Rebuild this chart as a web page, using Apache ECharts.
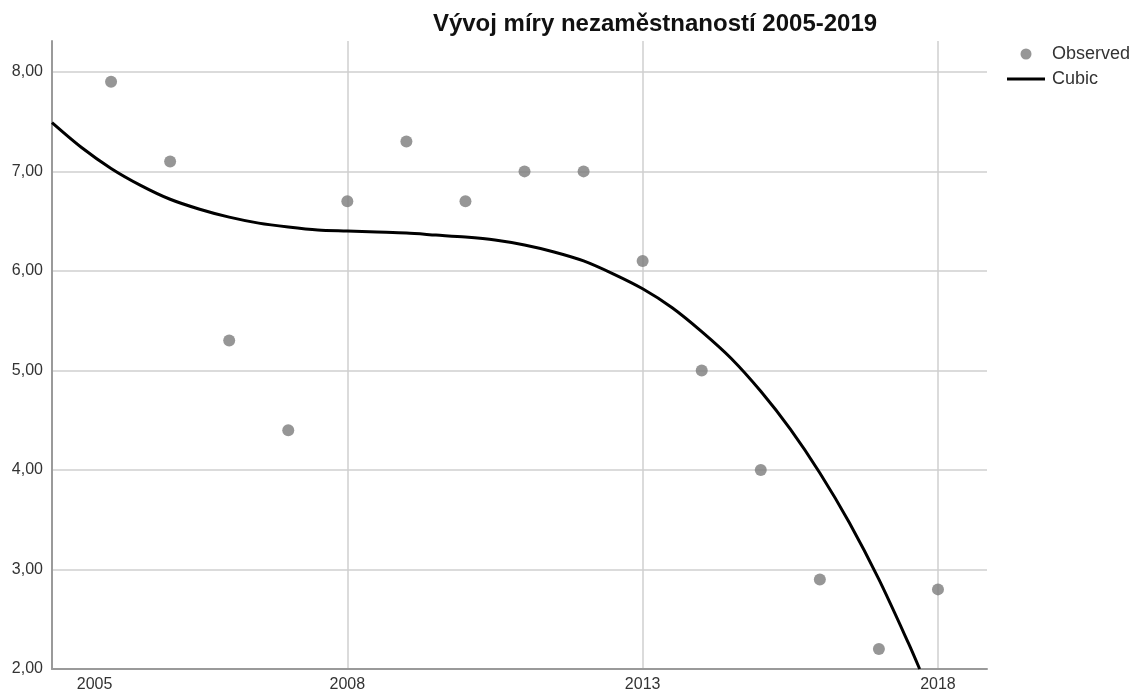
<!DOCTYPE html>
<html>
<head>
<meta charset="utf-8">
<script src="https://cdn.jsdelivr.net/npm/echarts@6/dist/echarts.min.js"></script>
<style>
html,body{margin:0;padding:0;background:#fff;}
#chart{width:1137px;height:693px;}
</style>
</head>
<body>
<div id="chart"></div>
<script>
// Observed unemployment rate (x positions as placed on the picture's axis)
var observedYears = [2004, 2005, 2006, 2007, 2008, 2009, 2010, 2011, 2012, 2013, 2014, 2015, 2016, 2017, 2018];
var observedValues = [7.9, 7.1, 5.3, 4.4, 6.7, 7.3, 6.7, 7.0, 7.0, 6.1, 5.0, 4.0, 2.9, 2.2, 2.8];

// Cubic fit curve at half-year steps
var cubicYears = [2003.0, 2003.5, 2004.0, 2004.5, 2005.0, 2005.5, 2006.0, 2006.5, 2007.0, 2007.5,
                  2008.0, 2008.5, 2009.0, 2009.5, 2010.0, 2010.5, 2011.0, 2011.5, 2012.0, 2012.5,
                  2013.0, 2013.5, 2014.0, 2014.5, 2015.0, 2015.5, 2016.0, 2016.5, 2017.0, 2017.5, 2017.69];
var cubicValues = [7.49, 7.24, 7.03, 6.86, 6.72, 6.62, 6.54, 6.48, 6.44, 6.41,
                   6.40, 6.39, 6.38, 6.36, 6.34, 6.31, 6.26, 6.19, 6.10, 5.97,
                   5.82, 5.63, 5.39, 5.12, 4.79, 4.41, 3.97, 3.47, 2.90, 2.26, 2.00];

// Tick labels
var xLabelValues = [2003.72, 2008, 2013, 2018];
var xLabelTexts = ['2005', '2008', '2013', '2018'];
var xGridValues = [2008, 2013, 2018];
var yTickValues = [2, 3, 4, 5, 6, 7, 8];

var chart = echarts.init(document.getElementById('chart'));
var observedData = observedYears.map(function (y, i) { return [y, observedValues[i]]; });
var cubicData = cubicYears.map(function (y, i) { return [y, cubicValues[i]]; });

chart.setOption({
  animation: false,
  backgroundColor: '#ffffff',
  title: {
    text: 'Vývoj míry nezaměstnaností 2005-2019',
    left: 655,
    textAlign: 'center',
    top: 12,
    padding: 0,
    textStyle: { fontFamily: 'Liberation Sans', fontWeight: 'bold', fontSize: 24, color: '#111' }
  },
  legend: {
    orient: 'vertical',
    left: 1007,
    top: 45,
    padding: 0,
    itemWidth: 38,
    itemHeight: 11,
    itemGap: 7,
    textStyle: { fontFamily: 'Liberation Sans', fontSize: 18, color: '#333', padding: [0, 0, 0, 2] },
    data: [
      { name: 'Observed', icon: 'circle' },
      { name: 'Cubic', icon: 'path://M0,0 L38,0 L38,3 L0,3 Z' }
    ]
  },
  grid: { left: 52, top: 41, right: 150, bottom: 23, containLabel: false },
  xAxis: {
    type: 'value',
    min: 2003,
    max: 2018.83,
    axisLine: { show: true, lineStyle: { color: '#9a9a9a', width: 2 } },
    axisTick: { show: false, customValues: xGridValues },
    axisLabel: {
      customValues: xLabelValues,
      formatter: function (v) {
        for (var i = 0; i < xLabelValues.length; i++) {
          if (Math.abs(xLabelValues[i] - v) < 1e-6) return xLabelTexts[i];
        }
        return '';
      },
      fontFamily: 'Liberation Sans', fontSize: 16, color: '#333', margin: 8
    },
    splitLine: { show: true, lineStyle: { color: '#cfcfcf', width: 1.5 } }
  },
  yAxis: {
    type: 'value',
    min: 2,
    max: 8.31,
    axisLine: { show: true, lineStyle: { color: '#9a9a9a', width: 2 } },
    axisTick: { show: false, customValues: yTickValues },
    axisLabel: {
      customValues: yTickValues,
      formatter: function (v) { return v.toFixed(2).replace('.', ','); },
      fontFamily: 'Liberation Sans', fontSize: 16, color: '#333', margin: 9
    },
    splitLine: { show: true, lineStyle: { color: '#cfcfcf', width: 1.5 } }
  },
  series: [
    {
      name: 'Observed',
      type: 'scatter',
      data: observedData,
      symbol: 'circle',
      symbolSize: 12,
      itemStyle: { color: '#7c7c7c' },
      z: 3
    },
    {
      name: 'Cubic',
      type: 'line',
      data: cubicData,
      smooth: 0.3,
      symbol: 'none',
      lineStyle: { color: '#000000', width: 3 },
      itemStyle: { color: '#000000' },
      z: 4
    }
  ]
});
</script>
</body>
</html>
